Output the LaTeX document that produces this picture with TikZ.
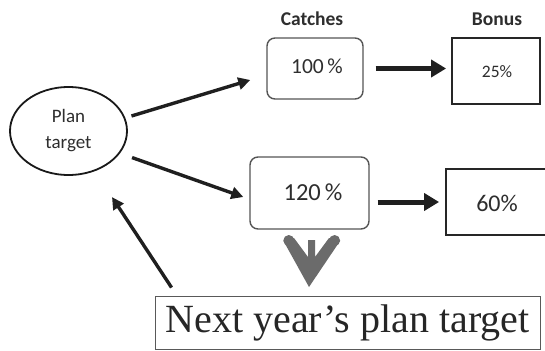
\documentclass[tikz,border=0pt]{standalone}
\usepackage{fontspec}
\newfontfamily\calfont{Carlito}
\newfontfamily\tmsfont{Liberation Serif}
\usetikzlibrary{arrows.meta,shapes.geometric,calc}
\definecolor{txt}{HTML}{2E2E2E}
\definecolor{rbord}{HTML}{555555}
\definecolor{greyarr}{HTML}{6B6B6B}
\tikzset{
  lbl/.style={font=\calfont\bfseries\fontsize{19.5}{22}\selectfont, text=txt, inner sep=0pt},
  pct/.style={text=txt, inner sep=0pt},
  rbox/.style={draw=rbord, line width=1.4pt, rounded corners=8pt, rectangle, inner sep=0pt},
  sbox/.style={draw=black!85, line width=1.8pt, rectangle, inner sep=0pt},
  darr/.style={draw=black!88, line width=3.4pt, -{Triangle[length=12pt,width=12pt]}},
  harr/.style={draw=black!88, line width=5pt, -{Triangle[length=15pt,width=17pt]}},
}
\begin{document}
\begin{tikzpicture}[x=1pt,y=-1pt]
\useasboundingbox (0,0) rectangle (545,350);
\fill[white] (0,0) rectangle (545,350);
% labels
\node[lbl] (catches) at (312,19) {Catches};
\node[lbl] (bonus) at (497,19) {Bonus};
% ellipse
\node[ellipse, draw=black!90, line width=1.8pt, minimum width=117pt, minimum height=88pt, inner sep=0pt,
      align=center, font=\calfont\fontsize{19}{26}\selectfont, text=txt] (ell) at (68.5,131) {Plan\\target};
% boxes
\node[rbox, minimum width=96pt, minimum height=61pt] (c100) at (315,68.5) {};
\node[pct, font=\calfont\fontsize{21.5}{24}\selectfont] (t100) at (317,66) {100\,\%};
\node[sbox, minimum width=88pt, minimum height=66pt] (b25) at (496,71) {};
\node[pct, font=\calfont\fontsize{17.5}{20}\selectfont] (t25) at (497,72) {25\%};
\node[rbox, minimum width=119pt, minimum height=72pt] (c120) at (309.5,193) {};
\node[pct, font=\calfont\fontsize{24.5}{26}\selectfont] (t120) at (313,192) {120\,\%};
\node[sbox, minimum width=106pt, minimum height=66pt] (b60) at (499,202) {};
\node[pct, font=\calfont\fontsize{24}{26}\selectfont] (t60) at (497,203) {60\%};
% next year's box
\node[draw=black!65, line width=0.9pt, rectangle, inner sep=0pt, minimum width=385pt, minimum height=53pt,
      font=\tmsfont\fontsize{40}{41}\selectfont, text=black!85] (nxt) at (347.5,322.5) {Next year’s plan target};
% arrows
\draw[darr] ([xshift=7pt]ell.15) -- ([xshift=-16pt,yshift=-11.5pt]c100.west);
\draw[darr] ([xshift=13pt,yshift=-3pt]ell.-25) -- ([xshift=-6pt,yshift=-4pt]c120.west);
\draw[harr] ([xshift=12pt]c100.east) -- ([xshift=-5pt]c100.east -| b25.west);
\draw[harr] ([xshift=8pt]b60.west -| c120.east) -- ([xshift=-6pt]b60.west);
\draw[darr, shorten >=31pt] ([xshift=17pt,yshift=8pt]nxt.north west) -- (ell);
% grey down arrow
\fill[greyarr] (283.5,241) -- (309,287) -- (340,241) -- (329,238) -- (315,257) -- (315,240) -- (308,240) -- (308,257) -- (294,238) -- cycle;
\fill[greyarr] (288.8,240.5) circle (5.5);
\fill[greyarr] (334.6,240.5) circle (5.5);
\end{tikzpicture}
\end{document}
